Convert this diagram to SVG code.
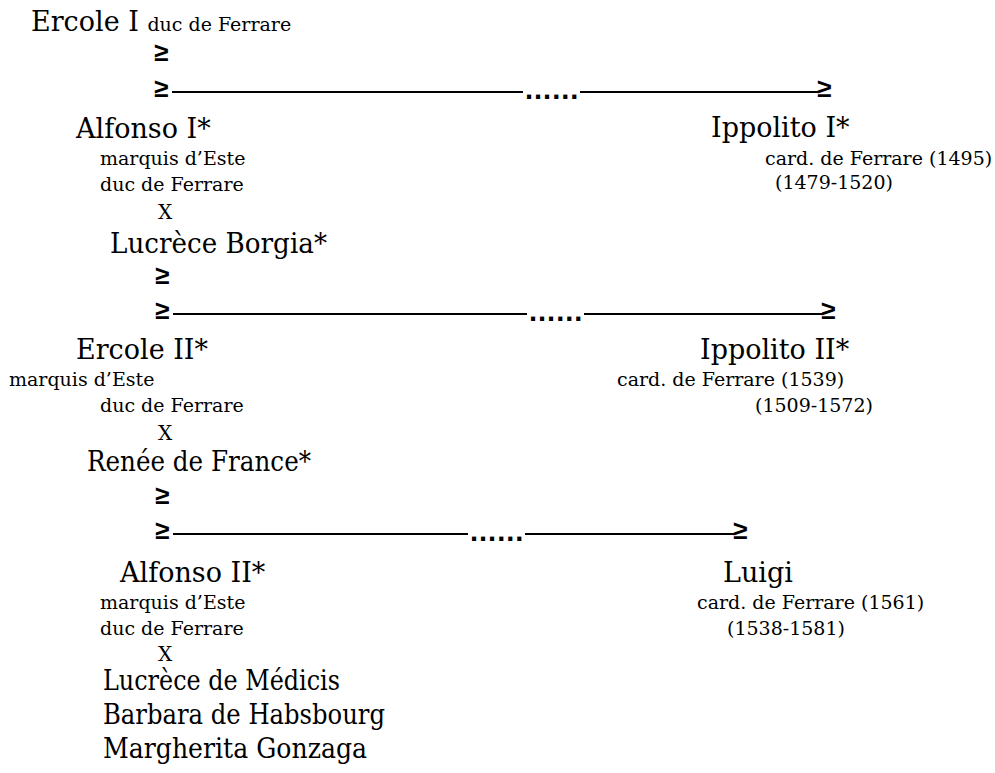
<svg xmlns="http://www.w3.org/2000/svg" width="995" height="773" viewBox="0 0 995 773">
<style>
text{font-family:"DejaVu Serif","Liberation Serif",serif;fill:#000}
.b{font-size:27px}
.s{font-size:19px}
.x{font-size:20px}
.ge{font-family:"Liberation Sans",Arial,sans-serif;font-weight:bold;font-size:26px}
.dots{font-family:"Liberation Sans",Arial,sans-serif;font-weight:bold;font-size:29px;letter-spacing:1px}
.ln{stroke:#000;stroke-width:2;fill:none}
</style>
<rect width="995" height="773" fill="#fff"/>
<g id="ercole1"><text x="31" y="31" class="b">Ercole I <tspan class="s">duc de Ferrare</tspan></text></g>
<g id="alfonso1">
<text x="76" y="138" class="b">Alfonso I*</text>
<text x="100" y="165" class="s">marquis d’Este</text>
<text x="100" y="191" class="s">duc de Ferrare</text>
<text x="158" y="219" class="x">X</text>
<text x="110" y="253" class="b" textLength="217" lengthAdjust="spacingAndGlyphs">Lucrèce Borgia*</text>
</g>
<g id="ippolito1">
<text x="711" y="137" class="b">Ippolito I*</text>
<text x="765" y="165" class="s">card. de Ferrare (1495)</text>
<text x="775" y="189" class="s">(1479-1520)</text>
</g>
<g id="ercole2">
<text x="76" y="359" class="b">Ercole II*</text>
<text x="9" y="386" class="s">marquis d’Este</text>
<text x="100" y="412" class="s">duc de Ferrare</text>
<text x="158" y="440" class="x">X</text>
<text x="87" y="471" class="b" textLength="224" lengthAdjust="spacingAndGlyphs">Renée de France*</text>
</g>
<g id="ippolito2">
<text x="700" y="359" class="b">Ippolito II*</text>
<text x="617" y="386" class="s">card. de Ferrare (1539)</text>
<text x="755" y="412" class="s">(1509-1572)</text>
</g>
<g id="alfonso2">
<text x="120" y="582" class="b">Alfonso II*</text>
<text x="100" y="609" class="s">marquis d’Este</text>
<text x="100" y="635" class="s">duc de Ferrare</text>
<text x="158" y="661" class="x">X</text>
<text x="103" y="690" class="b" textLength="237" lengthAdjust="spacingAndGlyphs">Lucrèce de Médicis</text>
<text x="103" y="724" class="b" textLength="282" lengthAdjust="spacingAndGlyphs">Barbara de Habsbourg</text>
<text x="103" y="758" class="b" textLength="264" lengthAdjust="spacingAndGlyphs">Margherita Gonzaga</text>
</g>
<g id="luigi">
<text x="723" y="582" class="b">Luigi</text>
<text x="697" y="609" class="s">card. de Ferrare (1561)</text>
<text x="727" y="635" class="s">(1538-1581)</text>
</g>
<g id="connectors">
<text x="154" y="61" class="ge">≥</text>
<text x="154" y="97" class="ge">≥</text>
<line x1="172" y1="92" x2="523" y2="92" class="ln"/>
<text x="525" y="99" class="dots">......</text>
<line x1="580" y1="92" x2="818" y2="92" class="ln"/>
<text x="817" y="97" class="ge">≥</text>

<text x="155" y="284" class="ge">≥</text>
<text x="155" y="319" class="ge">≥</text>
<line x1="173" y1="314" x2="527" y2="314" class="ln"/>
<text x="529" y="321" class="dots">......</text>
<line x1="584" y1="314" x2="822" y2="314" class="ln"/>
<text x="821" y="319" class="ge">≥</text>

<text x="155" y="504" class="ge">≥</text>
<text x="155" y="539" class="ge">≥</text>
<line x1="173" y1="534" x2="468" y2="534" class="ln"/>
<text x="470" y="541" class="dots">......</text>
<line x1="525" y1="534" x2="734" y2="534" class="ln"/>
<text x="733" y="539" class="ge">≥</text>
</g>
</svg>
